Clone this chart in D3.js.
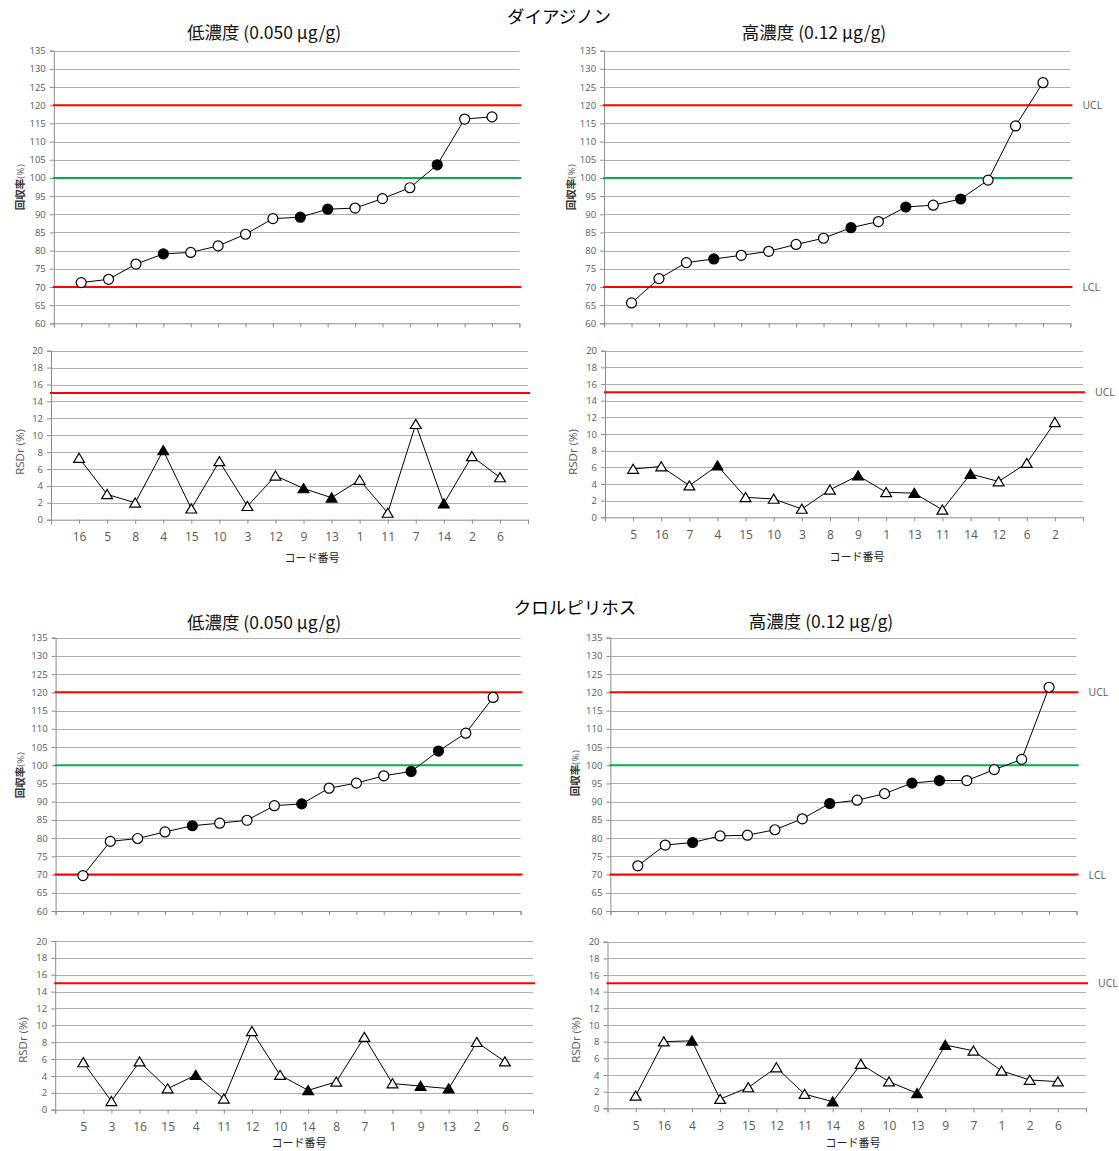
<!DOCTYPE html>
<html>
<head>
<meta charset="utf-8">
<script src="https://cdn.jsdelivr.net/npm/d3@7/dist/d3.min.js"></script>
<style>
  body { margin: 0; background: #fff; }
  svg text { font-family: "Open Sans", "Liberation Sans", "Noto Sans CJK JP", sans-serif; }
  svg text.jp, svg tspan.jp { font-family: "Noto Sans CJK JP", sans-serif; }
</style>
</head>
<body>
<svg id="chart" width="1119" height="1151"></svg>
<script>
// ---- data ----------------------------------------------------------------
// laboratory codes, in plotted order (sorted by recovery)
const diazinonLowCodes  = [16, 5, 8, 4, 15, 10, 3, 12, 9, 13, 1, 11, 7, 14, 2, 6];
const diazinonHighCodes = [5, 16, 7, 4, 15, 10, 3, 8, 9, 1, 13, 11, 14, 12, 6, 2];
const chlorLowCodes     = [5, 3, 16, 15, 4, 11, 12, 10, 14, 8, 7, 1, 9, 13, 2, 6];
const chlorHighCodes    = [5, 16, 4, 3, 15, 12, 11, 14, 8, 10, 13, 9, 7, 1, 2, 6];

// recovery (%)
const diazinonLowRecovery  = [71.2, 72.1, 76.3, 79.1, 79.5, 81.3, 84.5, 88.8, 89.2, 91.4, 91.7, 94.3, 97.3, 103.6, 116.2, 116.8];
const diazinonHighRecovery = [65.6, 72.3, 76.7, 77.7, 78.7, 79.8, 81.7, 83.4, 86.3, 88.0, 92.0, 92.5, 94.2, 99.4, 114.3, 126.2];
const chlorLowRecovery     = [69.7, 79.1, 79.9, 81.7, 83.4, 84.1, 84.9, 88.9, 89.4, 93.7, 95.1, 97.1, 98.3, 103.9, 108.8, 118.6];
const chlorHighRecovery    = [72.4, 78.1, 78.8, 80.6, 80.8, 82.3, 85.3, 89.5, 90.4, 92.2, 95.1, 95.8, 95.8, 98.8, 101.6, 121.4];

// repeatability RSDr (%)
const diazinonLowRsd  = [7.3, 3.0, 2.0, 8.2, 1.3, 6.9, 1.6, 5.2, 3.7, 2.6, 4.7, 0.8, 11.3, 1.9, 7.5, 5.0];
const diazinonHighRsd = [5.8, 6.1, 3.8, 6.2, 2.4, 2.2, 1.0, 3.3, 5.0, 3.0, 2.9, 0.9, 5.2, 4.3, 6.5, 11.4];
const chlorLowRsd     = [5.6, 1.0, 5.7, 2.5, 4.1, 1.3, 9.3, 4.1, 2.3, 3.3, 8.6, 3.1, 2.8, 2.5, 8.0, 5.7];
const chlorHighRsd    = [1.5, 8.0, 8.1, 1.1, 2.5, 4.9, 1.7, 0.8, 5.3, 3.2, 1.8, 7.6, 6.9, 4.5, 3.4, 3.2];

// laboratories drawn with filled markers
const filledCodes = [4, 9, 13, 14];

// axis ticks and control limits
const recoveryTicks = [60, 65, 70, 75, 80, 85, 90, 95, 100, 105, 110, 115, 120, 125, 130, 135];
const rsdTicks = [0, 2, 4, 6, 8, 10, 12, 14, 16, 18, 20];
const recoveryLCL = 70, recoveryTarget = 100, recoveryUCL = 120;
const rsdUCL = 15;

const compoundTitles = ["ダイアジノン", "クロルピリホス"];
const levelTitles = ["低濃度 (0.050 μg/g)", "高濃度 (0.12 μg/g)"];

// ---- layout --------------------------------------------------------------
const panels = [
  { codes: diazinonLowCodes, rec: diazinonLowRecovery, rsd: diazinonLowRsd, title: levelTitles[0], limitLabels: false,
    recBox: { x0: 53.8, x1: 519.4, y0: 50.7, y1: 323.3 }, rsdBox: { x0: 51, x1: 528, y0: 350.7, y1: 519.7 },
    titleAt: [264, 39], recLabelAt: [18, 187], rsdLabelAt: [20, 452], codeTitleAt: [312, 562] },
  { codes: diazinonHighCodes, rec: diazinonHighRecovery, rsd: diazinonHighRsd, title: levelTitles[1], limitLabels: true,
    recBox: { x0: 604.1, x1: 1070.4, y0: 50.7, y1: 323.3 }, rsdBox: { x0: 605, x1: 1083, y0: 350.7, y1: 517.3 },
    titleAt: [814, 39], recLabelAt: [569, 187], rsdLabelAt: [573, 452], codeTitleAt: [857, 561] },
  { codes: chlorLowCodes, rec: chlorLowRecovery, rsd: chlorLowRsd, title: levelTitles[0], limitLabels: false,
    recBox: { x0: 55.6, x1: 520.5, y0: 637.7, y1: 911 }, rsdBox: { x0: 55.2, x1: 533, y0: 941, y1: 1109.7 },
    titleAt: [264, 629], recLabelAt: [18, 775], rsdLabelAt: [23, 1040], codeTitleAt: [299, 1147] },
  { codes: chlorHighCodes, rec: chlorHighRecovery, rsd: chlorHighRsd, title: levelTitles[1], limitLabels: true,
    recBox: { x0: 610.4, x1: 1076.5, y0: 637.7, y1: 911 }, rsdBox: { x0: 607.5, x1: 1086, y0: 941.7, y1: 1108.3 },
    titleAt: [821, 628], recLabelAt: [573, 773], rsdLabelAt: [576, 1040], codeTitleAt: [853, 1147] }
];

const compoundTitleAt = [[559, 23], [575, 614]];

const GRID = "#b0b0b0", AXIS = "#8c8c8c", LABEL = "#595959";
const RED = "#ff0000", GREEN = "#00b050";

const svg = d3.select("#chart");

compoundTitles.forEach((t, i) => {
  svg.append("text").attr("class", "jp")
    .attr("x", compoundTitleAt[i][0]).attr("y", compoundTitleAt[i][1])
    .attr("text-anchor", "middle").attr("font-size", 17.5).attr("fill", "#000")
    .text(t);
});

const trianglePath = "M0,-4.8L5.4,4.3L-5.4,4.3Z";

function drawChart(g, box, values, codes, yDomain, ticks, kind, limits, limitLabels, showCodes) {
  const x = d3.scaleLinear().domain([0, codes.length + 1]).range([box.x0, box.x1]);
  const y = d3.scaleLinear().domain(yDomain).range([box.y1, box.y0]);

  // horizontal grid
  g.append("g").selectAll("line").data(ticks.filter(t => t !== yDomain[0])).join("line")
    .attr("x1", box.x0).attr("x2", box.x1)
    .attr("y1", d => Math.round(y(d)) + 0.5).attr("y2", d => Math.round(y(d)) + 0.5)
    .attr("stroke", GRID).attr("stroke-width", 1);

  // left axis
  const ya = g.append("g").attr("transform", `translate(${box.x0},0)`)
    .call(d3.axisLeft(y).tickValues(ticks).tickSize(4).tickPadding(4));
  ya.select(".domain").attr("stroke", AXIS);
  ya.selectAll(".tick line").attr("stroke", AXIS);
  ya.selectAll(".tick text").attr("fill", LABEL).attr("font-size", 9.5)
    .attr("font-family", "'Open Sans', 'Liberation Sans', sans-serif");

  // bottom axis (codes under each point)
  const xa = g.append("g").attr("transform", `translate(0,${box.y1})`)
    .call(d3.axisBottom(x).tickValues(d3.range(0, codes.length + 2)).tickSize(4).tickPadding(9)
      .tickFormat(k => (showCodes && k >= 1 && k <= codes.length) ? codes[k - 1] : ""));
  xa.select(".domain").attr("stroke", AXIS);
  xa.selectAll(".tick line").attr("stroke", AXIS);
  xa.selectAll(".tick text").attr("fill", LABEL).attr("font-size", 12)
    .attr("font-family", "'Open Sans', 'Liberation Sans', sans-serif");

  // control lines
  limits.forEach(l => {
    g.append("line")
      .attr("x1", box.x0 - 1).attr("x2", box.x1 + 2)
      .attr("y1", y(l.v)).attr("y2", y(l.v))
      .attr("stroke", l.color).attr("stroke-width", 2);
    if (limitLabels && l.label) {
      g.append("text").attr("x", box.x1 + 12).attr("y", y(l.v) + 4)
        .attr("fill", LABEL).attr("font-size", 10.5).text(l.label);
    }
  });

  // series
  const line = d3.line().x((d, i) => x(i + 1)).y(d => y(d));
  g.append("path").datum(values).attr("d", line)
    .attr("fill", "none").attr("stroke", "#000").attr("stroke-width", 1);

  const pts = g.append("g").selectAll("g").data(values).join("g")
    .attr("transform", (d, i) => `translate(${x(i + 1)},${y(d)})`);
  if (kind === "rec") {
    pts.append("circle").attr("r", 5)
      .attr("fill", (d, i) => filledCodes.includes(codes[i]) ? "#000" : "#fff")
      .attr("stroke", "#000").attr("stroke-width", 1.2);
  } else {
    pts.append("path").attr("d", trianglePath)
      .attr("fill", (d, i) => filledCodes.includes(codes[i]) ? "#000" : "#fff")
      .attr("stroke", "#000").attr("stroke-width", 1.2);
  }
}

panels.forEach(p => {
  const g = svg.append("g");

  g.append("text").attr("class", "jp")
    .attr("x", p.titleAt[0]).attr("y", p.titleAt[1])
    .attr("text-anchor", "middle").attr("font-size", 17.5).attr("fill", "#111")
    .text(p.title);

  drawChart(g, p.recBox, p.rec, p.codes, [60, 135], recoveryTicks, "rec",
    [{ v: recoveryUCL, color: RED, label: "UCL" },
     { v: recoveryTarget, color: GREEN },
     { v: recoveryLCL, color: RED, label: "LCL" }], p.limitLabels, false);

  drawChart(g, p.rsdBox, p.rsd, p.codes, [0, 20], rsdTicks, "rsd",
    [{ v: rsdUCL, color: RED, label: "UCL" }], p.limitLabels, true);

  // axis titles
  const rl = g.append("text")
    .attr("transform", `translate(${p.recLabelAt[0]},${p.recLabelAt[1]}) rotate(-90)`)
    .attr("text-anchor", "middle").attr("dy", "0.35em");
  rl.append("tspan").attr("class", "jp")
    .attr("font-size", 10.5).attr("font-weight", "bold").attr("fill", "#333").text("回収率");
  rl.append("tspan")
    .attr("font-size", 9.5).attr("fill", LABEL).attr("letter-spacing", 0.5).text("(%)");

  g.append("text")
    .attr("transform", `translate(${p.rsdLabelAt[0]},${p.rsdLabelAt[1]}) rotate(-90)`)
    .attr("text-anchor", "middle").attr("dy", "0.35em")
    .attr("font-size", 11.5).attr("fill", LABEL).text("RSDr (%)");

  g.append("text").attr("class", "jp")
    .attr("x", p.codeTitleAt[0]).attr("y", p.codeTitleAt[1])
    .attr("text-anchor", "middle").attr("font-size", 11).attr("fill", "#222")
    .text("コード番号");
});
</script>
</body>
</html>
